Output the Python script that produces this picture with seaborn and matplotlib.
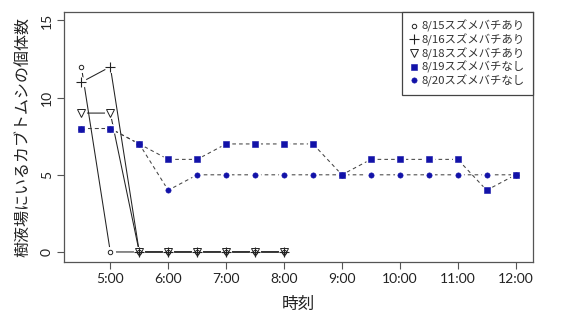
import matplotlib
matplotlib.use("Agg")
import matplotlib.pyplot as plt
import seaborn as sns
import numpy as np
import pandas as pd

# ---- data ----
time_labels = ["4:30", "5:00", "5:30", "6:00", "6:30", "7:00", "7:30", "8:00",
               "8:30", "9:00", "9:30", "10:00", "10:30", "11:00", "11:30", "12:00"]
hours = [4.5, 5.0, 5.5, 6.0, 6.5, 7.0, 7.5, 8.0, 8.5, 9.0, 9.5, 10.0, 10.5, 11.0, 11.5, 12.0]

s0815 = [12, 0, 0, 0, 0, 0, 0, 0]
s0816 = [11, 12, 0, 0, 0, 0, 0, 0]
s0818 = [9, 9, 0, 0, 0, 0, 0, 0]
s0819 = [8, 8, 7, 6, 6, 7, 7, 7, 7, 5, 6, 6, 6, 6, 4, 5]
s0820 = [8, 8, 7, 4, 5, 5, 5, 5, 5, 5, 5, 5, 5, 5, 5, 5]

series_names = ["8/15スズメバチあり", "8/16スズメバチあり", "8/18スズメバチあり",
                "8/19スズメバチなし", "8/20スズメバチなし"]
xtick_vals = [5, 6, 7, 8, 9, 10, 11, 12]
xtick_labels = ["5:00", "6:00", "7:00", "8:00", "9:00", "10:00", "11:00", "12:00"]
ytick_vals = [0, 5, 10, 15]

sns.set_theme(style="white")
plt.rcParams['font.family'] = ['Lato', 'Noto Sans CJK JP', 'DejaVu Sans']

fig = plt.figure(figsize=(5.72, 3.21), dpi=100)
ax = fig.add_axes([64/572, 1 - 262/321, (533-64)/572, (262-12)/321])

blue = "#1212A8"
styles = [
    dict(vals=s0815, marker="o", ms=3.2, mfc="none", mec="#222222", mew=0.7, ls="-", lc="#222222"),
    dict(vals=s0816, marker="+", ms=7, mfc="none", mec="#222222", mew=0.8, ls="-", lc="#222222"),
    dict(vals=s0818, marker="v", ms=5.5, mfc="none", mec="#222222", mew=0.7, ls="-", lc="#222222"),
    dict(vals=s0819, marker="s", ms=4.3, mfc=blue, mec=blue, mew=0.4, ls=(0, (3.5, 3)), lc="#444444"),
    dict(vals=s0820, marker="o", ms=3.8, mfc=blue, mec=blue, mew=0.4, ls=(0, (3.5, 3)), lc="#444444"),
]

# lines
for name, st in zip(series_names, styles):
    n = len(st["vals"])
    df = pd.DataFrame({"x": hours[:n], "y": st["vals"]})
    sns.lineplot(data=df, x="x", y="y", ax=ax, color=st["lc"], linewidth=0.75,
                 linestyle=st["ls"], legend=False, zorder=2)
# gaps around points (R type="b")
for st in styles:
    n = len(st["vals"])
    ax.plot(hours[:n], st["vals"], ls="none", marker="o", ms=8, mfc="white",
            mec="none", zorder=3)
# markers
handles = []
for name, st in zip(series_names, styles):
    n = len(st["vals"])
    h, = ax.plot(hours[:n], st["vals"], ls="none", marker=st["marker"], ms=st["ms"],
                 mfc=st["mfc"], mec=st["mec"], mew=st["mew"], zorder=4, label=name)
    handles.append(h)

ax.set_xlim(4.2, 12.3)
ax.set_ylim(-0.65, 15.55)
ax.set_xticks(xtick_vals)
ax.set_xticklabels(xtick_labels)
ax.set_yticks(ytick_vals)
ax.set_yticklabels([str(v) for v in ytick_vals], rotation=90, va="center")
ax.tick_params(axis="both", which="both", direction="out", length=5, width=0.8,
               color="#555555", labelsize=10, labelcolor="#222222", pad=3,
               bottom=True, left=True)
for sp in ax.spines.values():
    sp.set_color("#555555")
    sp.set_linewidth(0.9)

ax.set_xlabel("時刻", fontsize=12, family=['Noto Sans CJK JP'], color="#222222", labelpad=8)
ax.set_ylabel("樹液場にいるカブトムシの個体数", fontsize=11.5, family=['Noto Sans CJK JP'],
              color="#222222", labelpad=6)

leg = ax.legend(handles=handles, loc="upper right", frameon=True, fancybox=False,
                borderaxespad=0, prop={"family": ['Noto Sans CJK JP'], "size": 8.2},
                handlelength=0.7, handletextpad=0.35, labelspacing=0.12, borderpad=0.7,
                framealpha=1)
leg.get_frame().set_edgecolor("#444444")
leg.get_frame().set_linewidth(0.9)
for t in leg.get_texts():
    t.set_color("#333333")

fig.savefig("out.png", dpi=100)
